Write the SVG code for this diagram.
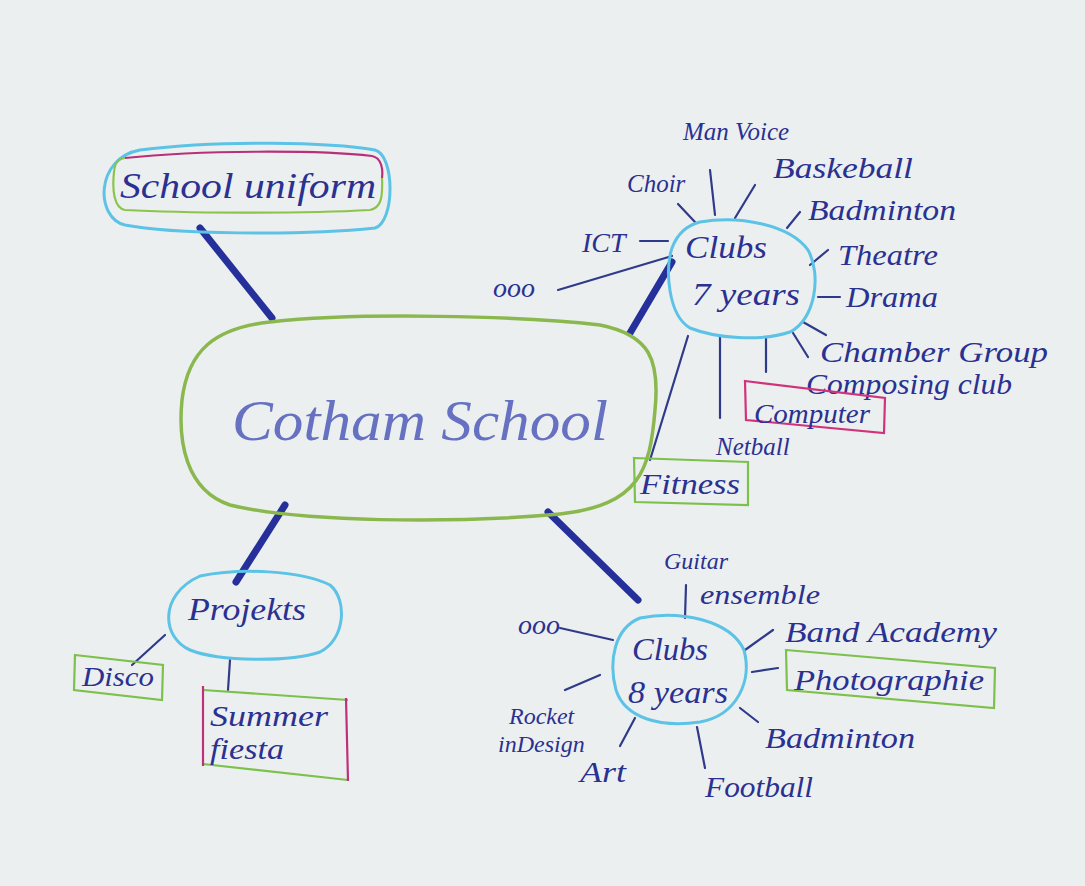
<svg xmlns="http://www.w3.org/2000/svg" width="1085" height="886" viewBox="0 0 1085 886">
<style>
.t{font-family:"Liberation Serif","DejaVu Serif",serif;font-style:italic;fill:#2a3190}
.s{font-size:28px}
.l{font-size:30px}
.m{font-size:32px}
.cy{fill:none;stroke:#5cc3e6;stroke-width:3}
.thick{stroke:#25309a;stroke-width:7;stroke-linecap:round}
.thin{stroke:#2f3a8a;stroke-width:2.2;stroke-linecap:round}
.gb{fill:none;stroke:#7cc14c;stroke-width:2.2}
.pb{fill:none;stroke:#d0337a;stroke-width:2.2}
</style>
<rect width="1085" height="886" fill="#eceff0"/>
<g id="connectors">
<line class="thick" x1="200" y1="228" x2="272" y2="318"/>
<line class="thick" x1="630" y1="333" x2="672" y2="262"/>
<line class="thick" x1="285" y1="505" x2="236" y2="582"/>
<line class="thick" x1="548" y1="512" x2="638" y2="600"/>
<line class="thin" x1="640" y1="241" x2="668" y2="241"/>
<line class="thin" x1="558" y1="290" x2="672" y2="256"/>
<line class="thin" x1="678" y1="204" x2="695" y2="222"/>
<line class="thin" x1="710" y1="170" x2="715" y2="215"/>
<line class="thin" x1="755" y1="185" x2="735" y2="218"/>
<line class="thin" x1="800" y1="212" x2="787" y2="228"/>
<line class="thin" x1="828" y1="250" x2="810" y2="265"/>
<line class="thin" x1="818" y1="297" x2="840" y2="297"/>
<line class="thin" x1="803" y1="322" x2="826" y2="335"/>
<line class="thin" x1="793" y1="333" x2="808" y2="357"/>
<line class="thin" x1="766" y1="337" x2="766" y2="372"/>
<line class="thin" x1="720" y1="336" x2="720" y2="418"/>
<line class="thin" x1="688" y1="336" x2="650" y2="460"/>
<line class="thin" x1="686" y1="585" x2="685" y2="618"/>
<line class="thin" x1="560" y1="628" x2="613" y2="640"/>
<line class="thin" x1="745" y1="650" x2="773" y2="630"/>
<line class="thin" x1="752" y1="672" x2="778" y2="668"/>
<line class="thin" x1="740" y1="708" x2="758" y2="722"/>
<line class="thin" x1="697" y1="727" x2="705" y2="768"/>
<line class="thin" x1="635" y1="718" x2="620" y2="746"/>
<line class="thin" x1="600" y1="675" x2="565" y2="690"/>
<line class="thin" x1="165" y1="635" x2="132" y2="665"/>
<line class="thin" x1="230" y1="660" x2="228" y2="690"/>
</g>
<g id="school-uniform">
<path class="cy" d="M140,150 C220,140 330,142 375,150 C395,155 395,222 375,228 C300,236 170,234 125,225 C95,218 95,158 140,150 Z"/>
<path d="M125,158 C200,150 320,150 372,156 C382,158 383,170 382,178" fill="none" stroke="#b8307a" stroke-width="2.2"/>
<path d="M382,178 C383,200 380,208 370,210 C300,214 180,213 125,210 C114,208 112,190 114,172 C115,162 118,159 125,158" fill="none" stroke="#8cc34c" stroke-width="2.2"/>
<text class="t" font-size="36" x="120" y="198" textLength="256" lengthAdjust="spacingAndGlyphs">School uniform</text>
</g>
<g id="cotham-school">
<path d="M270,322 C360,312 520,316 600,325 C650,335 660,360 655,410 C650,470 640,505 560,514 C450,524 300,522 230,505 C185,490 178,440 182,400 C188,350 215,328 270,322 Z" fill="none" stroke="#8bb84e" stroke-width="3.5"/>
<text class="t" x="232" y="440" font-size="58" textLength="376" lengthAdjust="spacingAndGlyphs" style="fill:#6671c2">Cotham School</text>
</g>
<g id="clubs-7">
<path class="cy" d="M700,222 C740,215 790,225 808,250 C822,275 815,320 790,332 C760,342 715,338 690,328 C668,315 665,270 672,248 C678,232 688,225 700,222 Z"/>
<text class="t m" x="685" y="258" textLength="82" lengthAdjust="spacingAndGlyphs">Clubs</text>
<text class="t m" x="692" y="305" textLength="108" lengthAdjust="spacingAndGlyphs">7 years</text>
</g>
<g id="c7-ict"><text class="t s" x="582" y="252">ICT</text></g>
<g id="c7-dots"><text class="t s" x="493" y="297">ooo</text></g>
<g id="c7-choir"><text class="t" font-size="25" x="627" y="192">Choir</text></g>
<g id="c7-manvoice"><text class="t" font-size="25" x="683" y="140">Man Voice</text></g>
<g id="c7-basketball"><text class="t l" x="773" y="178" textLength="140" lengthAdjust="spacingAndGlyphs">Baskeball</text></g>
<g id="c7-badminton"><text class="t l" x="808" y="220" textLength="148" lengthAdjust="spacingAndGlyphs">Badminton</text></g>
<g id="c7-theatre"><text class="t l" x="838" y="265" textLength="100" lengthAdjust="spacingAndGlyphs">Theatre</text></g>
<g id="c7-drama"><text class="t l" x="846" y="307" textLength="92" lengthAdjust="spacingAndGlyphs">Drama</text></g>
<g id="c7-chamber"><text class="t" font-size="29" x="820" y="362" textLength="228" lengthAdjust="spacingAndGlyphs">Chamber Group</text></g>
<g id="c7-composing"><text class="t" font-size="29" x="806" y="394" textLength="206" lengthAdjust="spacingAndGlyphs">Composing club</text></g>
<g id="c7-computer">
<path class="pb" d="M745,381 L885,398 L884,433 L746,420 Z"/>
<text class="t" font-size="27" x="754" y="423" textLength="116" lengthAdjust="spacingAndGlyphs">Computer</text>
</g>
<g id="c7-netball"><text class="t" font-size="25" x="716" y="455">Netball</text></g>
<g id="c7-fitness">
<path class="gb" d="M634,458 L748,462 L748,505 L635,502 Z"/>
<text class="t l" x="640" y="494" textLength="100" lengthAdjust="spacingAndGlyphs">Fitness</text>
</g>
<g id="clubs-8">
<path class="cy" d="M640,618 C680,610 730,620 744,650 C752,680 738,715 700,722 C660,728 625,718 616,690 C608,660 615,628 640,618 Z"/>
<text class="t m" x="632" y="660" textLength="76" lengthAdjust="spacingAndGlyphs">Clubs</text>
<text class="t m" x="628" y="703" textLength="100" lengthAdjust="spacingAndGlyphs">8 years</text>
</g>
<g id="c8-guitar">
<text class="t" font-size="24" x="664" y="569">Guitar</text>
<text class="t" font-size="28" x="700" y="604" textLength="120" lengthAdjust="spacingAndGlyphs">ensemble</text>
</g>
<g id="c8-dots"><text class="t s" x="518" y="634">ooo</text></g>
<g id="c8-band"><text class="t l" x="785" y="642" textLength="212" lengthAdjust="spacingAndGlyphs">Band Academy</text></g>
<g id="c8-photo">
<path class="gb" d="M786,650 L995,668 L994,708 L787,690 Z"/>
<text class="t l" x="794" y="690" textLength="190" lengthAdjust="spacingAndGlyphs">Photographie</text>
</g>
<g id="c8-badminton"><text class="t l" x="765" y="748" textLength="150" lengthAdjust="spacingAndGlyphs">Badminton</text></g>
<g id="c8-football"><text class="t l" x="705" y="797" textLength="108" lengthAdjust="spacingAndGlyphs">Football</text></g>
<g id="c8-art"><text class="t l" x="580" y="782" textLength="46" lengthAdjust="spacingAndGlyphs">Art</text></g>
<g id="c8-rocket">
<text class="t" font-size="24" x="509" y="724">Rocket</text>
<text class="t" font-size="24" x="498" y="752">inDesign</text>
</g>
<g id="projekts">
<path class="cy" d="M200,576 C240,568 300,570 330,585 C348,600 345,640 320,652 C290,662 220,662 190,650 C162,638 158,595 200,576 Z"/>
<text class="t m" x="188" y="620" textLength="118" lengthAdjust="spacingAndGlyphs">Projekts</text>
</g>
<g id="disco">
<path class="gb" d="M75,655 L163,665 L162,700 L74,690 Z"/>
<text class="t s" x="82" y="686" textLength="72" lengthAdjust="spacingAndGlyphs">Disco</text>
</g>
<g id="summer-fiesta">
<path d="M203,690 L348,700 M203,764 L348,780" fill="none" stroke="#7cc14c" stroke-width="2.2"/>
<path d="M203,686 L203,766 M346,698 L348,781" fill="none" stroke="#c0307a" stroke-width="2.2"/>
<text class="t l" x="210" y="726" textLength="118" lengthAdjust="spacingAndGlyphs">Summer</text>
<text class="t l" x="210" y="759" textLength="74" lengthAdjust="spacingAndGlyphs">fiesta</text>
</g>
</svg>
